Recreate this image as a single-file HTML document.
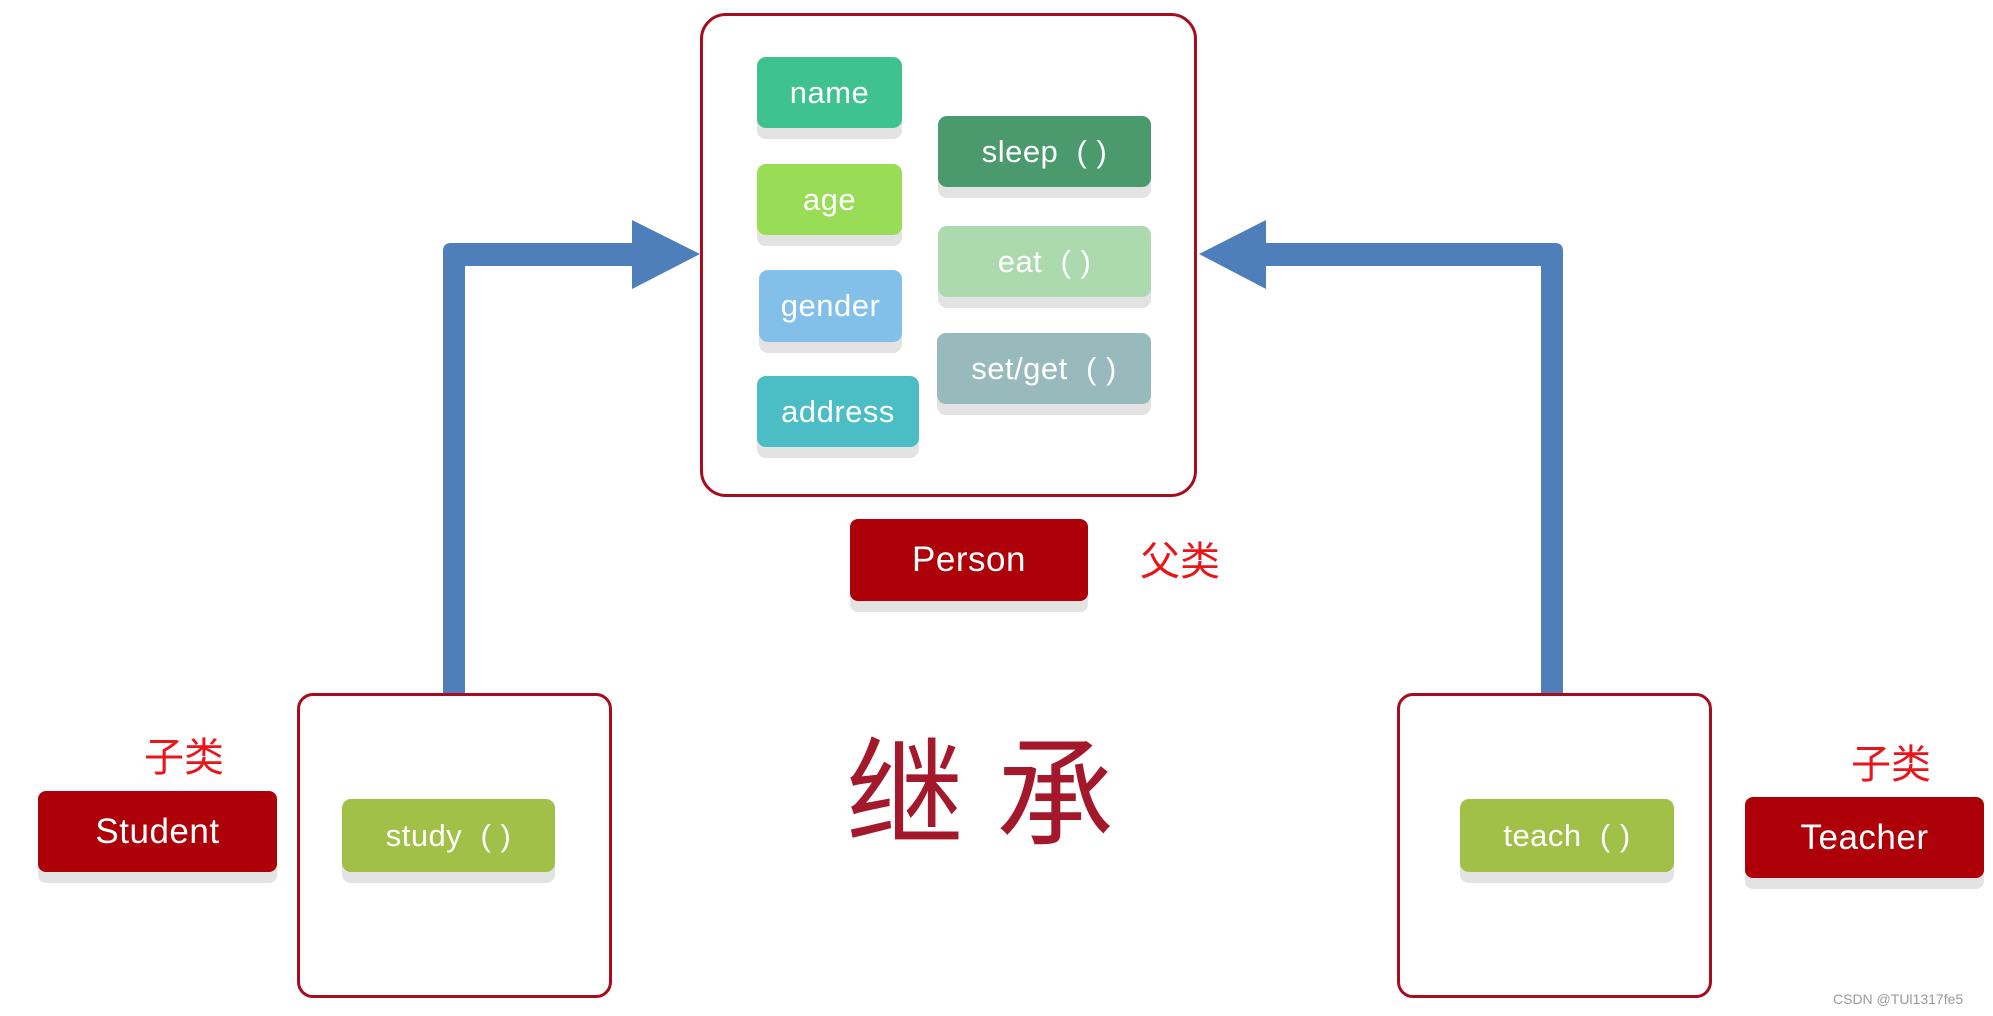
<!DOCTYPE html>
<html><head><meta charset="utf-8"><style>
body{margin:0;width:1993px;height:1016px;background:#fff;position:relative;overflow:hidden;font-family:"Liberation Sans","Noto Sans CJK SC",sans-serif}
.a{position:absolute}
.box{position:absolute;border:3.5px solid #a50e1e;border-radius:26px;box-sizing:border-box}
.t{position:absolute;border-radius:9px;color:#fff;display:flex;align-items:center;justify-content:center;font-size:31px;box-shadow:0 11px 0 #e3e3e3;letter-spacing:0.5px}
.r{background:#ad0008;font-size:35px;border-radius:8px}
.cn{position:absolute;color:#e8151b;font-size:40px;font-family:"Noto Sans CJK SC",sans-serif;line-height:1}
</style></head><body>
<svg class="a" style="left:0;top:0" width="1993" height="1016">
<g fill="#4f7fba">
<path d="M443,693 V251 Q443,243 451,243 H635 V266 H465 V693 Z"/>
<polygon points="632,220 700,254 632,289"/>
<path d="M1541,693 V266 H1263 V243 H1555 Q1563,243 1563,251 V693 Z"/>
<polygon points="1266,220 1199,254 1266,289"/>
</g></svg>
<div class="box" style="left:700px;top:13px;width:497px;height:484px"></div>
<div class="t" style="left:757px;top:57px;width:145px;height:71px;background:#3dc290">name</div>
<div class="t" style="left:757px;top:164px;width:145px;height:71px;background:#98dd55">age</div>
<div class="t" style="left:759px;top:270px;width:143px;height:72px;background:#82c0ea">gender</div>
<div class="t" style="left:757px;top:376px;width:162px;height:71px;background:#4bbdc5">address</div>
<div class="t" style="left:938px;top:116px;width:213px;height:71px;background:#4a9a6d">sleep &nbsp;( )</div>
<div class="t" style="left:938px;top:226px;width:213px;height:71px;background:#add9af">eat &nbsp;( )</div>
<div class="t" style="left:937px;top:333px;width:214px;height:71px;background:#98babd">set/get &nbsp;( )</div>
<div class="t r" style="left:850px;top:519px;width:238px;height:82px">Person</div>
<div class="cn" style="left:1140px;top:538px">父类</div>
<div class="box" style="left:297px;top:693px;width:315px;height:305px;border-radius:16px"></div>
<div class="t" style="left:342px;top:799px;width:213px;height:73px;background:#a0c048">study &nbsp;( )</div>
<div class="t r" style="left:38px;top:791px;width:239px;height:81px">Student</div>
<div class="cn" style="left:144px;top:734px">子类</div>
<div class="box" style="left:1397px;top:693px;width:315px;height:305px;border-radius:16px"></div>
<div class="t" style="left:1460px;top:799px;width:214px;height:73px;background:#a0c048">teach &nbsp;( )</div>
<div class="t r" style="left:1745px;top:797px;width:239px;height:81px">Teacher</div>
<div class="cn" style="left:1851px;top:741px">子类</div>
<div class="a" style="left:846px;top:720px;font-size:118px;color:#a3182a;font-family:'Noto Sans CJK SC',sans-serif;line-height:1.1;letter-spacing:32px">继承</div>
<div class="a" style="left:1833px;top:991px;font-size:14px;color:#999">CSDN @TUl1317fe5</div>
</body></html>
